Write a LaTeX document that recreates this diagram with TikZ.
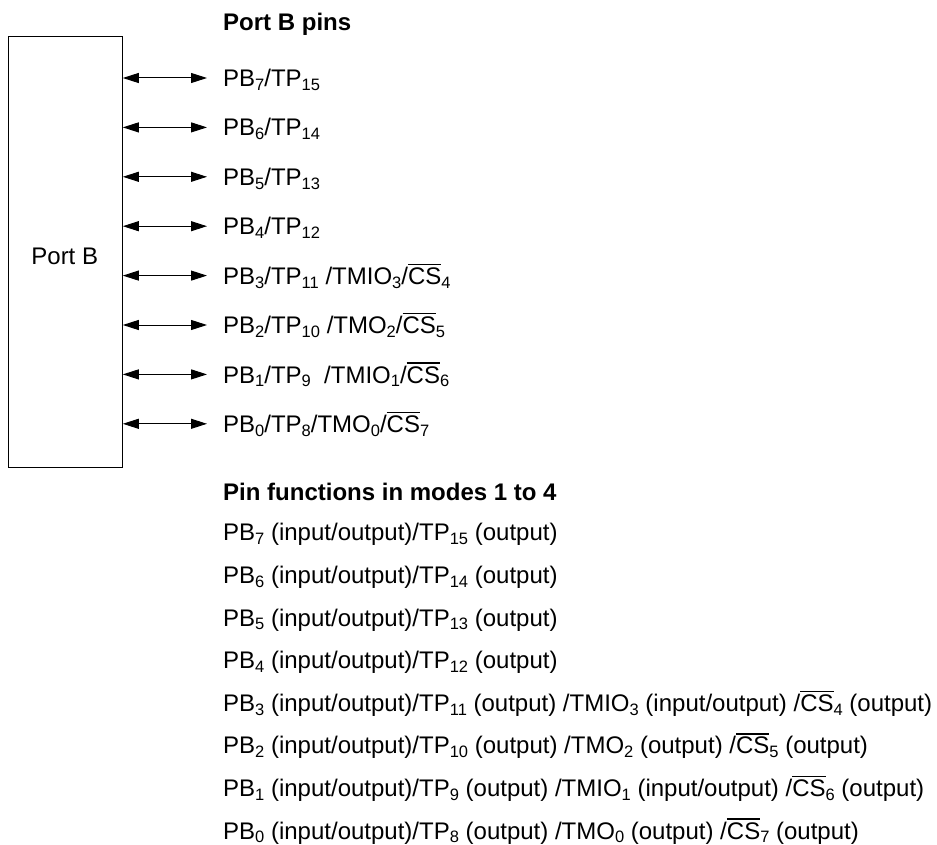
\documentclass[tikz,border=0pt]{standalone}
\usepackage{fontspec}
\setmainfont{Liberation Sans}
\usetikzlibrary{arrows.meta}
\newcommand\sbs[1]{\raisebox{-3.8pt}{\fontsize{16.5}{16.5}\selectfont #1}}
\newcommand\ovl[1]{\setbox0\hbox{#1}\rlap{\rule[\dimexpr\ht0+2.5pt\relax]{\wd0}{1.3pt}}\box0}
\begin{document}
\begin{tikzpicture}[x=1pt,y=-1pt,
  txt/.style={anchor=base west,inner sep=0pt,font=\fontsize{24}{28}\selectfont},
  ttl/.style={txt,font=\fontsize{24}{28}\selectfont\bfseries},
  pin/.style={{Triangle[length=16pt,width=10pt]}-{Triangle[length=16pt,width=10pt]},line width=1pt},
  blk/.style={draw,line width=1.3pt,inner sep=0pt,anchor=north west}]
\useasboundingbox (0,0) rectangle (937,845);
\node[blk,minimum width=113.5pt,minimum height=431pt] (portb) at (8,36) {};
\node[txt,anchor=base] (portblabel) at (64.75,264.6) {Port B};
\node[ttl] (title1) at (223,30.5) {Port B pins};
% pin rows
\coordinate (a7) at (207,78);
\coordinate (a6) at (207,127.4);
\coordinate (a5) at (207,176.8);
\coordinate (a4) at (207,226.2);
\coordinate (a3) at (207,275.6);
\coordinate (a2) at (207,325);
\coordinate (a1) at (207,374.4);
\coordinate (a0) at (207,423.8);
\foreach \k in {0,...,7}{\draw[pin] (portb.east |- a\k) -- (a\k);}
\node[txt] (l7) at (223,86.6) {PB\sbs{7}/TP\sbs{15}};
\node[txt] (l6) at (223,136) {PB\sbs{6}/TP\sbs{14}};
\node[txt] (l5) at (223,185.4) {PB\sbs{5}/TP\sbs{13}};
\node[txt] (l4) at (223,234.8) {PB\sbs{4}/TP\sbs{12}};
\node[txt] (l3) at (223,284.2) {PB\sbs{3}/TP\sbs{11} /TMIO\sbs{3}/\ovl{CS}\sbs{4}};
\node[txt] (l2) at (223,333.6) {PB\sbs{2}/TP\sbs{10} /TMO\sbs{2}/\ovl{CS}\sbs{5}};
\node[txt] (l1) at (223,383) {PB\sbs{1}/TP\sbs{9}\ \ /TMIO\sbs{1}/\ovl{CS}\sbs{6}};
\node[txt] (l0) at (223,432.4) {PB\sbs{0}/TP\sbs{8}/TMO\sbs{0}/\ovl{CS}\sbs{7}};
% pin functions
\node[ttl] (title2) at (223,500.5) {Pin functions in modes 1 to 4};
\node[txt] (f7) at (223,540.8) {PB\sbs{7} (input/output)/TP\sbs{15} (output)};
\node[txt] (f6) at (223,583.4) {PB\sbs{6} (input/output)/TP\sbs{14} (output)};
\node[txt] (f5) at (223,626) {PB\sbs{5} (input/output)/TP\sbs{13} (output)};
\node[txt] (f4) at (223,668.6) {PB\sbs{4} (input/output)/TP\sbs{12} (output)};
\node[txt] (f3) at (223,711.2) {PB\sbs{3} (input/output)/TP\sbs{11} (output) /TMIO\sbs{3} (input/output) /\ovl{CS}\sbs{4} (output)};
\node[txt] (f2) at (223,753.8) {PB\sbs{2} (input/output)/TP\sbs{10} (output) /TMO\sbs{2} (output) /\ovl{CS}\sbs{5} (output)};
\node[txt] (f1) at (223,796.4) {PB\sbs{1} (input/output)/TP\sbs{9} (output) /TMIO\sbs{1} (input/output) /\ovl{CS}\sbs{6} (output)};
\node[txt] (f0) at (223,839) {PB\sbs{0} (input/output)/TP\sbs{8} (output) /TMO\sbs{0} (output) /\ovl{CS}\sbs{7} (output)};
\end{tikzpicture}
\end{document}
